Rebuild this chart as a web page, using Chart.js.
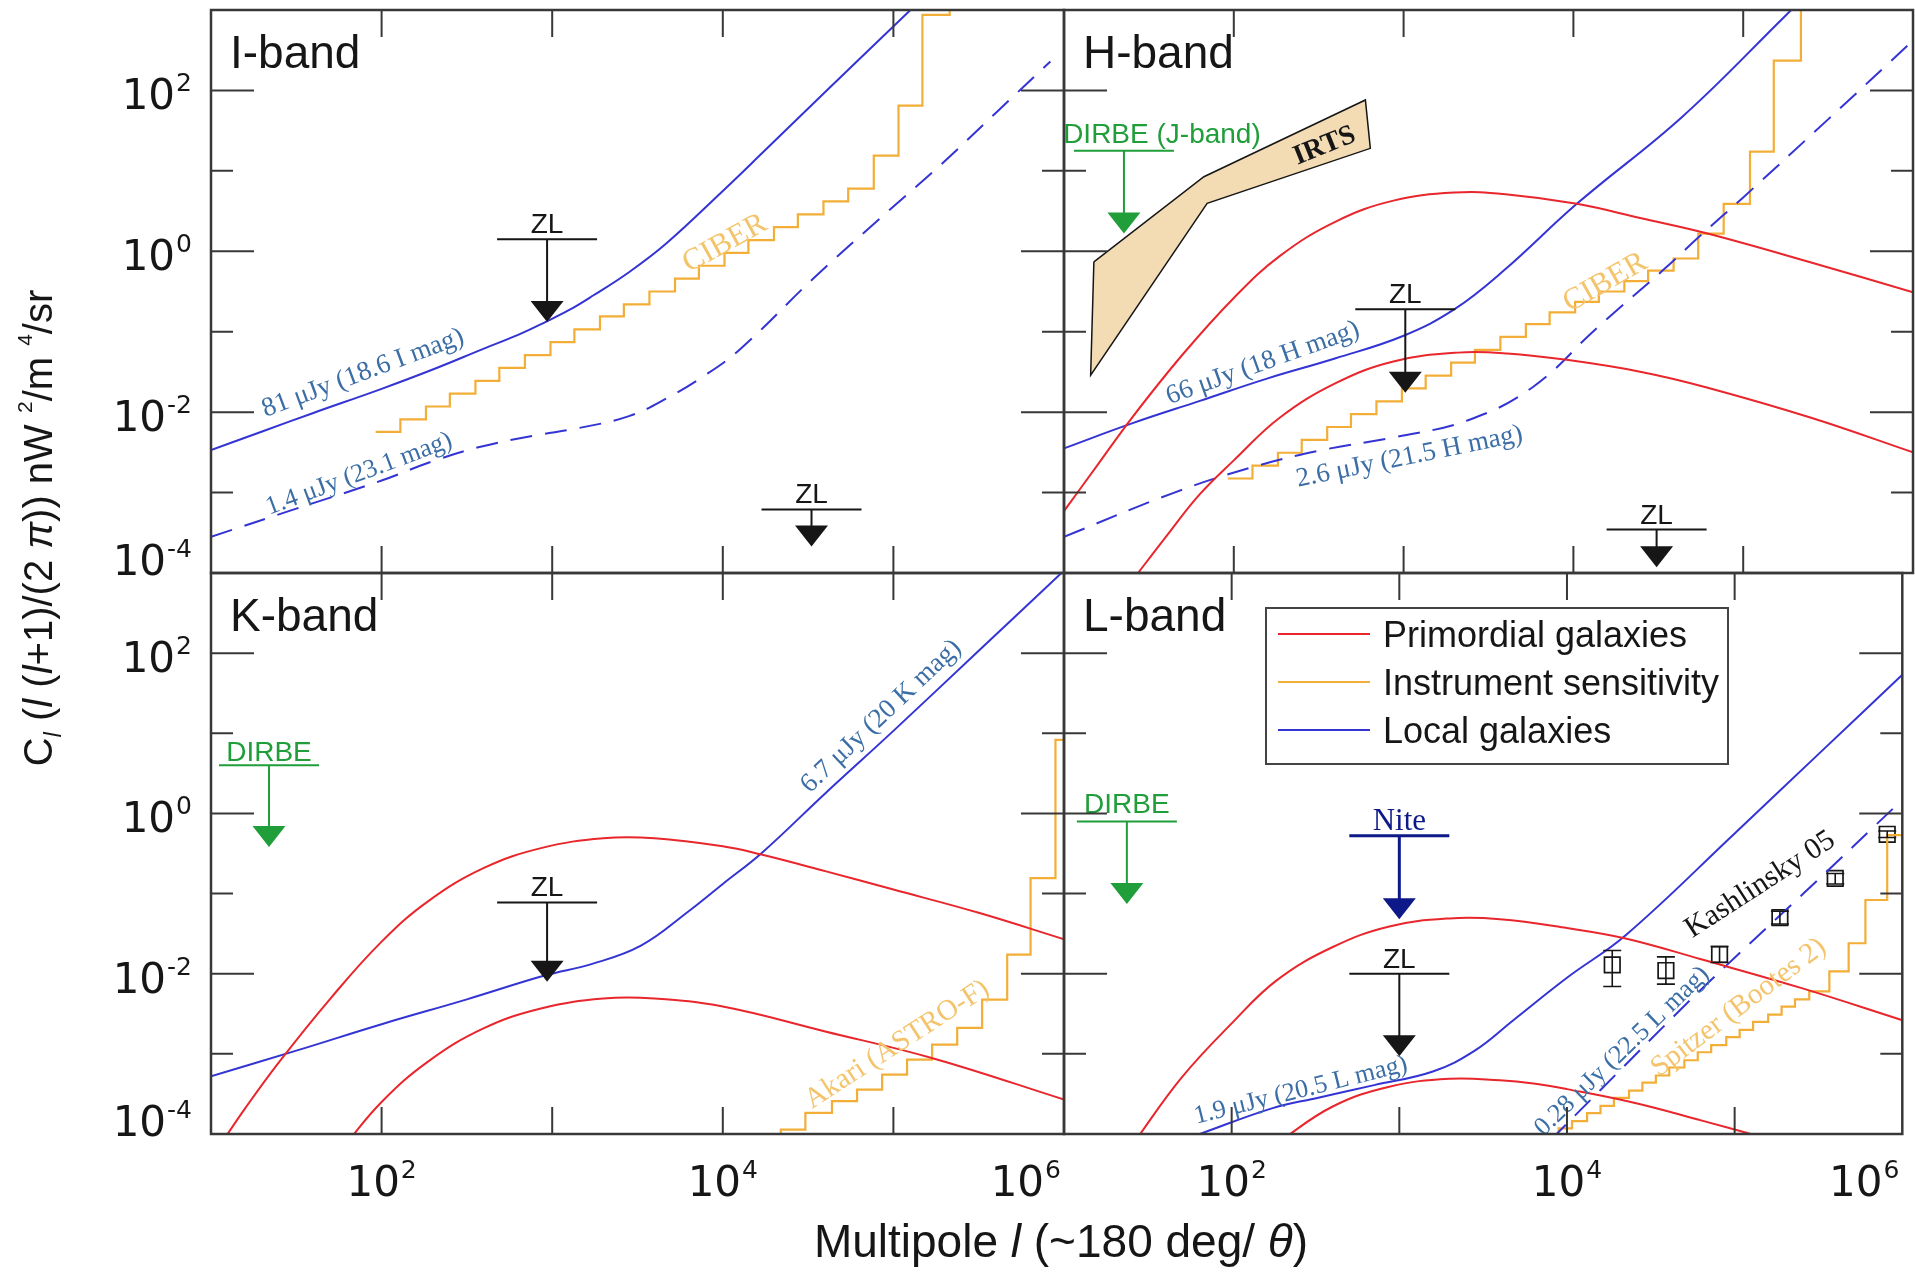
<!DOCTYPE html>
<html>
<head>
<meta charset="utf-8">
<title>Near-IR background fluctuations</title>
<script src="https://cdn.jsdelivr.net/npm/chart.js@4.4.1/dist/chart.umd.min.js"></script>
<style>
  html, body { margin: 0; padding: 0; background: #fff; }
  #wrap { position: relative; width: 1915px; height: 1277px; overflow: hidden; }
  #wrap canvas { position: absolute; left: 0; top: 0; }
</style>
</head>
<body>
<div id="wrap">
  <canvas id="pI" width="1915" height="1277"></canvas>
  <canvas id="pH" width="1915" height="1277"></canvas>
  <canvas id="pK" width="1915" height="1277"></canvas>
  <canvas id="pL" width="1915" height="1277"></canvas>
</div>
<script>
// every curve is a list of [log10 l, log10 C_l l(l+1)/2pi]

// I-band
const iLocalBright = [[1.0,-2.47],[1.3,-2.24],[1.6,-2.01],[2.0,-1.71],[2.3,-1.47],[2.6,-1.21],[2.8,-1.04],[2.96,-0.88],[3.1,-0.73],[3.24,-0.55],[3.45,-0.26],[3.67,0.1],[4.0,0.75],[4.24,1.24],[4.6,1.98],[5.1,3.0],[5.3,3.4]];
const iLocalFaint = [[1.0,-3.55],[1.5,-3.2],[2.0,-2.85],[2.3,-2.61],[2.58,-2.43],[2.9,-2.29],[3.15,-2.2],[3.45,-2.05],[3.67,-1.83],[3.89,-1.55],[4.1,-1.22],[4.54,-0.32],[4.97,0.5],[5.28,1.08],[5.6,1.72],[5.92,2.36]];
const iCiber = [[1.965,-2.245],[2.11,-2.09],[2.26,-1.93],[2.40,-1.77],[2.55,-1.61],[2.69,-1.45],[2.84,-1.29],[2.99,-1.13],[3.13,-0.97],[3.28,-0.81],[3.42,-0.66],[3.57,-0.50],[3.72,-0.34],[3.86,-0.18],[4.01,-0.02],[4.15,0.14],[4.30,0.30],[4.44,0.46],[4.59,0.62],[4.735,0.78],[4.885,1.19],[5.03,1.81],[5.17,2.94],[5.33,3.6]];
// upper limits: [log10 l, log10 bar, log10 arrow tip]
const iZL = [[2.97,0.15,-0.88],[4.52,-3.21,-3.67]];

// H-band
const hLocalBright = [[1.0,-2.45],[1.4,-2.14],[1.8,-1.86],[2.2,-1.58],[2.6,-1.33],[3.0,-1.05],[3.3,-0.72],[3.59,-0.24],[4.02,0.59],[4.64,1.67],[5.24,2.91],[5.4,3.25]];
const hLocalFaint = [[1.0,-3.55],[1.65,-3.0],[2.1,-2.69],[2.5,-2.48],[2.95,-2.31],[3.38,-2.1],[3.76,-1.69],[4.14,-0.95],[4.53,-0.23],[4.74,0.18],[5.0,0.67],[5.5,1.64],[6.0,2.62]];
const hPrimBright = [[1.0,-3.23],[1.2,-2.65],[1.4,-2.07],[1.7,-1.28],[2.0,-0.58],[2.27,-0.06],[2.6,0.37],[2.94,0.63],[3.3,0.73],[3.6,0.71],[4.02,0.59],[4.4,0.41],[4.79,0.22],[5.4,-0.14],[6.0,-0.51]];
const hPrimFaint = [[1.4,-4.1],[1.6,-3.55],[1.8,-3.02],[2.0,-2.6],[2.27,-2.07],[2.6,-1.64],[2.94,-1.37],[3.32,-1.26],[3.61,-1.27],[3.96,-1.35],[4.4,-1.5],[4.78,-1.69],[5.4,-2.07],[6.0,-2.5]];
const hCiber = [[1.965,-2.825],[2.11,-2.665],[2.26,-2.505],[2.40,-2.345],[2.55,-2.185],[2.69,-2.025],[2.84,-1.865],[2.99,-1.705],[3.13,-1.545],[3.28,-1.385],[3.42,-1.225],[3.57,-1.065],[3.72,-0.905],[3.86,-0.76],[4.01,-0.63],[4.15,-0.50],[4.30,-0.37],[4.44,-0.24],[4.59,-0.09],[4.735,0.22],[4.885,0.59],[5.04,1.24],[5.18,2.37],[5.34,3.6]];
const irtsOutline = [[1.176,-0.131],[1.157,-1.54],[1.843,0.596],[2.804,1.28],[2.775,1.881],[1.824,0.927],[1.176,-0.131]];
const hDirbe = [[1.353,1.25,0.22]];
const hZL = [[3.01,-0.72,-1.76],[4.49,-3.46,-3.93]];

// K-band
const kLocal = [[1.0,-3.28],[1.5,-2.96],[2.0,-2.63],[2.5,-2.32],[2.96,-2.02],[3.23,-1.88],[3.52,-1.65],[3.8,-1.22],[4.0,-0.88],[4.23,-0.49],[4.6,0.25],[5.0,1.03],[5.5,2.03],[6.0,3.03]];
const kPrimBright = [[1.05,-4.15],[1.2,-3.68],[1.4,-3.1],[1.7,-2.31],[2.0,-1.6],[2.27,-1.1],[2.6,-0.68],[2.94,-0.43],[3.3,-0.31],[3.6,-0.31],[4.0,-0.41],[4.22,-0.51],[4.6,-0.72],[5.0,-0.95],[5.5,-1.24],[6.0,-1.57]];
const kPrimFaint = [[1.78,-4.15],[2.0,-3.6],[2.27,-3.1],[2.6,-2.68],[2.94,-2.43],[3.3,-2.31],[3.6,-2.31],[4.0,-2.41],[4.6,-2.72],[5.24,-3.06],[6.0,-3.57]];
const kAkari = [[4.28,-4.2],[4.34,-3.945],[4.484,-3.737],[4.64,-3.59],[4.787,-3.446],[4.934,-3.259],[5.08,-3.072],[5.227,-2.885],[5.374,-2.677],[5.52,-2.324],[5.667,-1.763],[5.804,-0.807],[5.95,0.918],[6.05,0.918]];
const kDirbe = [[1.34,0.60,-0.42]];
const kZL = [[2.97,-1.11,-2.10]];

// L-band
const lLocalBright = [[1.7,-4.08],[1.81,-4.0],[2.24,-3.68],[2.51,-3.55],[2.85,-3.39],[3.2,-3.22],[3.45,-2.96],[3.68,-2.58],[4.0,-2.05],[4.35,-1.52],[5.0,-0.25],[5.5,0.74],[6.0,1.73]];
const lLocalFaint = [[3.9,-4.08],[4.2,-3.45],[4.72,-2.36],[5.0,-1.8],[5.41,-1.0],[6.0,0.17]];
const lPrimBright = [[1.42,-4.1],[1.7,-3.3],[2.0,-2.62],[2.27,-2.08],[2.6,-1.67],[2.94,-1.41],[3.3,-1.31],[3.6,-1.32],[4.0,-1.43],[4.35,-1.56],[4.8,-1.82],[5.4,-2.18],[6.0,-2.58]];
const lPrimFaint = [[2.28,-4.1],[2.6,-3.66],[2.94,-3.41],[3.3,-3.31],[3.6,-3.33],[3.8,-3.37],[4.0,-3.44],[4.4,-3.61],[4.8,-3.83],[5.2,-4.06]];
const lSpitzer = [[3.93,-4.15],[3.95,-3.93],[4.03,-3.84],[4.12,-3.74],[4.20,-3.65],[4.28,-3.55],[4.37,-3.46],[4.45,-3.36],[4.53,-3.27],[4.61,-3.17],[4.70,-3.08],[4.78,-2.98],[4.86,-2.89],[4.95,-2.79],[5.03,-2.70],[5.11,-2.60],[5.20,-2.51],[5.28,-2.41],[5.36,-2.32],[5.445,-2.22],[5.565,-1.97],[5.68,-1.62],[5.78,-1.08],[5.91,-0.27],[6.05,-0.27]];
const kashLogL = [4.27, 4.59, 4.91, 5.27, 5.60, 5.91];
const kashLogC = [-1.89, -1.96, -1.76, -1.30, -0.81, -0.26];
const kashLogLo = [-2.16, -2.13, -1.86, -1.38, -0.88, -0.30];
const kashLogHi = [-1.71, -1.79, -1.66, -1.22, -0.75, -0.22];
const lDirbe = [[1.375,-0.10,-1.13]];
const lNite = [[3.0,-0.28,-1.32]];
const lZL = [[3.0,-2.0,-3.03]];

// axes
const xTickExp = [2, 3, 4, 5];
const yTickExp = [-3, -2, -1, 0, 1, 2];
const xLabelExp = [2, 4, 6];
const yLabelExp = [-4, -2, 0, 2];
const legendRows = ['Primordial galaxies', 'Instrument sensitivity', 'Local galaxies'];

const W = 1915, H = 1277;
const RED = '#e8262c', BLUE = '#3434d4', ORANGE = '#f2ae36', LABEL_BLUE = '#3c6ea6',
      LIGHT_ORANGE = '#f4c46c', GREEN = '#1f9e3a', NAVY = '#0d1889', INK = '#161616', FRAME = '#383838';
const SANS = "'Liberation Sans', Arial, Helvetica, sans-serif";
const SERIF = "'Liberation Serif', 'Times New Roman', serif";
const NUM = "'DejaVu Sans', sans-serif";
const DASH = [22, 13];

const pts = a => a.map(([lx, ly]) => ({ x: 10 ** lx, y: 10 ** ly }));

function curve(data, color, extra) {
  return Object.assign({
    data: pts(data), borderColor: color, borderWidth: 2, pointRadius: 0,
    showLine: true, fill: false, tension: 0.4, capBezierPoints: false
  }, extra);
}
function stairs(data, color) {
  return curve(data, color, { stepped: true, tension: 0, borderWidth: 2.2 });
}

// "10" with a raised exponent; the last decade label sits flush against its tick
function powerLabel(ctx, exp, x, base, align) {
  const big = '42px ' + NUM, small = '25px ' + NUM, e = String(exp);
  ctx.font = big; const w1 = ctx.measureText('10').width;
  ctx.font = small; const w2 = ctx.measureText(e).width;
  let left = x - (w1 + w2 + 1) / 2;
  if (align === 'right') left = x - w1 - w2 - 1;
  ctx.textAlign = 'left'; ctx.textBaseline = 'alphabetic';
  ctx.font = big; ctx.fillText('10', left, base);
  ctx.font = small; ctx.fillText(e, left + w1 + 1, base - 18);
}

// text made of runs: n = normal, it = italic, sub / sup
function drawRuns(ctx, runs, size) {
  const font = k => ({
    n: `${size}px ${SANS}`, it: `italic ${size}px ${SANS}`,
    sub: `italic ${Math.round(size * 0.6)}px ${SANS}`, sup: `${Math.round(size * 0.52)}px ${SANS}`
  })[k];
  const lift = { n: 0, it: 0, sub: size * 0.22, sup: -size * 0.5 };
  let total = 0;
  runs.forEach(([t, k]) => { ctx.font = font(k); total += ctx.measureText(t).width; });
  let x = -total / 2;
  ctx.textAlign = 'left'; ctx.textBaseline = 'alphabetic'; ctx.fillStyle = INK;
  runs.forEach(([t, k]) => { ctx.font = font(k); ctx.fillText(t, x, lift[k]); x += ctx.measureText(t).width; });
}

const yTitleRuns = [['C', 'n'], ['l', 'sub'], [' (', 'n'], ['l', 'it'], [' (', 'n'], ['l', 'it'], ['+1)/(2 ', 'n'],
  ['\u03c0', 'it'], [')) nW ', 'n'], ['2', 'sup'], ['/m ', 'n'], ['4', 'sup'], ['/sr', 'n']];
const xTitleRuns = [['Multipole ', 'n'], ['l', 'it'], [' (~180 deg/ ', 'n'], ['\u03b8', 'it'], [')', 'n']];

const decorPlugin = {
  id: 'decor',
  afterDatasetsDraw(chart, args, o) {
    const { ctx, chartArea: a } = chart;
    const px = e => chart.scales.x.getPixelForValue(10 ** e);
    const py = e => chart.scales.y.getPixelForValue(10 ** e);
    ctx.save();
    ctx.beginPath(); ctx.rect(a.left, a.top, a.right - a.left, a.bottom - a.top); ctx.clip();

    if (o.errors) {
      const e = o.errors;
      ctx.strokeStyle = INK; ctx.lineWidth = 1.6;
      e.l.forEach((l, i) => {
        const x = px(l), y1 = py(e.lo[i]), y2 = py(e.hi[i]);
        ctx.beginPath();
        ctx.moveTo(x, y1); ctx.lineTo(x, y2);
        ctx.moveTo(x - 9, y1); ctx.lineTo(x + 9, y1);
        ctx.moveTo(x - 9, y2); ctx.lineTo(x + 9, y2);
        ctx.stroke();
      });
    }

    (o.limits || []).forEach(m => {
      const [l, bar, tip] = m.v;
      const x = px(l), yb = py(bar), yt = py(tip);
      ctx.strokeStyle = m.color; ctx.fillStyle = m.color; ctx.lineWidth = m.lw || 2;
      ctx.beginPath();
      ctx.moveTo(x - 50, yb); ctx.lineTo(x + 50, yb);
      ctx.moveTo(x, yb); ctx.lineTo(x, yt - 18);
      ctx.stroke();
      ctx.beginPath();
      ctx.moveTo(x - 16.5, yt - 21); ctx.lineTo(x + 16.5, yt - 21); ctx.lineTo(x, yt);
      ctx.closePath(); ctx.fill();
      ctx.font = m.font; ctx.textAlign = 'center'; ctx.textBaseline = 'alphabetic';
      ctx.fillText(m.text, x + (m.dx || 0), yb - (m.gap || 6));
    });

    (o.notes || []).forEach(n => {
      ctx.save();
      ctx.translate(px(n.at[0]), py(n.at[1]));
      ctx.rotate(n.rot * Math.PI / 180);
      ctx.font = n.font; ctx.fillStyle = n.color;
      ctx.textAlign = 'center'; ctx.textBaseline = 'middle';
      ctx.fillText(n.text, 0, 0);
      ctx.restore();
    });
    ctx.restore();
  },
  afterDraw(chart, args, o) {
    const { ctx, chartArea: a } = chart;
    const px = e => chart.scales.x.getPixelForValue(10 ** e);
    const py = e => chart.scales.y.getPixelForValue(10 ** e);
    ctx.save();
    // inward ticks on all four sides
    ctx.strokeStyle = FRAME; ctx.lineWidth = 2;
    ctx.beginPath();
    xTickExp.forEach(e => {
      const x = px(e);
      ctx.moveTo(x, a.top); ctx.lineTo(x, a.top + 27);
      ctx.moveTo(x, a.bottom); ctx.lineTo(x, a.bottom - 27);
    });
    yTickExp.forEach(e => {
      const y = py(e), len = yLabelExp.includes(e) ? 43 : 22;
      ctx.moveTo(a.left, y); ctx.lineTo(a.left + len, y);
      ctx.moveTo(a.right, y); ctx.lineTo(a.right - len, y);
    });
    ctx.stroke();
    ctx.lineWidth = 2.5;
    ctx.strokeRect(a.left, a.top, a.right - a.left, a.bottom - a.top);

    ctx.fillStyle = INK;
    if (o.yLabels) yLabelExp.forEach(e => powerLabel(ctx, e, a.left - 19, e === -4 ? py(e) + 2 : py(e) + 19, 'right'));
    if (o.xLabels) xLabelExp.forEach(e => powerLabel(ctx, e, px(e) - (e === 6 ? 3 : 0), a.bottom + 62, e === 6 ? 'right' : 'center'));

    ctx.font = `46px ${SANS}`; ctx.textAlign = 'left'; ctx.textBaseline = 'alphabetic';
    ctx.fillText(o.name, a.left + 19, a.top + 58);

    if (o.legend) {
      const g = o.legend, left = a.left + g.dx, top = a.top + g.dy;
      ctx.fillStyle = '#fff'; ctx.fillRect(left, top, g.w, g.h);
      ctx.strokeStyle = '#444'; ctx.lineWidth = 2; ctx.strokeRect(left, top, g.w, g.h);
      g.rows.forEach((r, i) => {
        const y = top + 26 + i * 48;
        ctx.strokeStyle = r.color; ctx.lineWidth = 2;
        ctx.beginPath(); ctx.moveTo(left + 12, y); ctx.lineTo(left + 104, y); ctx.stroke();
        ctx.fillStyle = INK; ctx.font = `36px ${SANS}`;
        ctx.fillText(r.text, left + 117, y + 13);
      });
    }

    if (o.titles) {
      ctx.save(); ctx.translate(52, 528); ctx.rotate(-Math.PI / 2);
      drawRuns(ctx, yTitleRuns, 40); ctx.restore();
      ctx.save(); ctx.translate(1061, 1257);
      drawRuns(ctx, xTitleRuns, 46); ctx.restore();
    }
    ctx.restore();
  }
};

function panel(id, box, datasets, decor) {
  return new Chart(document.getElementById(id), {
    type: 'scatter',
    data: { datasets },
    options: {
      responsive: false, animation: false, events: [], devicePixelRatio: 1,
      layout: { padding: { left: box[0], top: box[1], right: W - box[2], bottom: H - box[3] } },
      scales: {
        x: { type: 'logarithmic', min: 10, max: 1e6, display: false },
        y: { type: 'logarithmic', min: 1e-4, max: 1e3, display: false }
      },
      plugins: { legend: { display: false }, tooltip: { enabled: false }, decor }
    },
    plugins: [decorPlugin]
  });
}

const zl = v => ({ v, text: 'ZL', color: INK, font: `28px ${SANS}`, gap: 6 });
const dirbe = (v, text, dx, gap) => ({ v, text, color: GREEN, font: `28px ${SANS}`, dx, gap });
const note = (text, at, rot, font, color) => ({ text, at, rot, font, color });

panel('pI', [211, 10, 1064, 573], [
  curve(iLocalBright, BLUE),
  curve(iLocalFaint, BLUE, { borderDash: DASH }),
  stairs(iCiber, ORANGE)
], {
  name: 'I-band', yLabels: true, xLabels: false, titles: true,
  limits: iZL.map(zl),
  notes: [
    note('81 \u03bcJy (18.6 I mag)', [1.891, -1.515], -20.4, `27px ${SERIF}`, LABEL_BLUE),
    note('1.4 \u03bcJy (23.1 mag)', [1.868, -2.771], -20.4, `26px ${SERIF}`, LABEL_BLUE),
    note('CIBER', [4.013, 0.096], -29, `31px ${SERIF}`, LIGHT_ORANGE)
  ]
});

panel('pH', [1064, 10, 1913, 573], [
  { data: pts(irtsOutline), showLine: true, fill: 'shape', backgroundColor: '#f3dcb4',
    borderColor: INK, borderWidth: 1.5, pointRadius: 0, tension: 0 },
  curve(hPrimBright, RED),
  curve(hPrimFaint, RED),
  curve(hLocalBright, BLUE),
  curve(hLocalFaint, BLUE, { borderDash: DASH }),
  stairs(hCiber, ORANGE)
], {
  name: 'H-band', yLabels: false, xLabels: false,
  limits: [dirbe(hDirbe[0], 'DIRBE (J-band)', 38, 8), ...hZL.map(zl)],
  notes: [
    note('66 \u03bcJy (18 H mag)', [2.171, -1.391], -19.7, `27px ${SERIF}`, LABEL_BLUE),
    note('2.6 \u03bcJy (21.5 H mag)', [3.035, -2.556], -11.5, `27px ${SERIF}`, LABEL_BLUE),
    note('CIBER', [4.188, -0.389], -29.8, `31px ${SERIF}`, LIGHT_ORANGE),
    note('IRTS', [2.535, 1.308], -22, `bold 28px ${SERIF}`, INK)
  ]
});

panel('pK', [211, 573, 1064, 1134], [
  curve(kPrimBright, RED),
  curve(kPrimFaint, RED),
  curve(kLocal, BLUE),
  stairs(kAkari, ORANGE)
], {
  name: 'K-band', yLabels: true, xLabels: true,
  limits: [dirbe(kDirbe[0], 'DIRBE', 0, 4), ...kZL.map(zl)],
  notes: [
    note('6.7 \u03bcJy (20 K mag)', [4.928, 1.211], -43.4, `27px ${SERIF}`, LABEL_BLUE),
    note('Akari (ASTRO-F)', [5.022, -2.885], -33, `29px ${SERIF}`, LIGHT_ORANGE)
  ]
});

panel('pL', [1064, 573, 1913, 1134], [
  curve(lPrimBright, RED),
  curve(lPrimFaint, RED),
  curve(lLocalBright, BLUE),
  curve(lLocalFaint, BLUE, { borderDash: DASH }),
  stairs(lSpitzer, ORANGE),
  { data: kashLogL.map((l, i) => ({ x: 10 ** l, y: 10 ** kashLogC[i] })), showLine: false,
    pointStyle: 'rect', pointRadius: 11, pointBorderWidth: 1.7,
    pointBorderColor: INK, pointBackgroundColor: 'rgba(0,0,0,0)' }
], {
  name: 'L-band', yLabels: false, xLabels: true,
  limits: [
    dirbe(lDirbe[0], 'DIRBE', 0, 8),
    { v: lNite[0], text: 'Nite', color: NAVY, font: `31px ${SERIF}`, lw: 3, gap: 6 },
    ...lZL.map(zl)
  ],
  errors: { l: kashLogL, lo: kashLogLo, hi: kashLogHi },
  notes: [
    note('1.9 \u03bcJy (20.5 L mag)', [2.412, -3.459], -14, `26px ${SERIF}`, LABEL_BLUE),
    note('0.28 \u03bcJy (22.5 L mag)', [4.329, -2.969], -44, `26px ${SERIF}`, LABEL_BLUE),
    note('Spitzer (Bootes 2)', [5.024, -2.424], -37, `29px ${SERIF}`, LIGHT_ORANGE),
    note('Kashlinsky 05', [5.153, -0.89], -33, `30px ${SERIF}`, INK)
  ],
  legend: {
    dx: 202, dy: 35, w: 462, h: 156,
    rows: legendRows.map((text, i) => ({ text, color: [RED, ORANGE, BLUE][i] }))
  }
});
</script>
</body>
</html>
